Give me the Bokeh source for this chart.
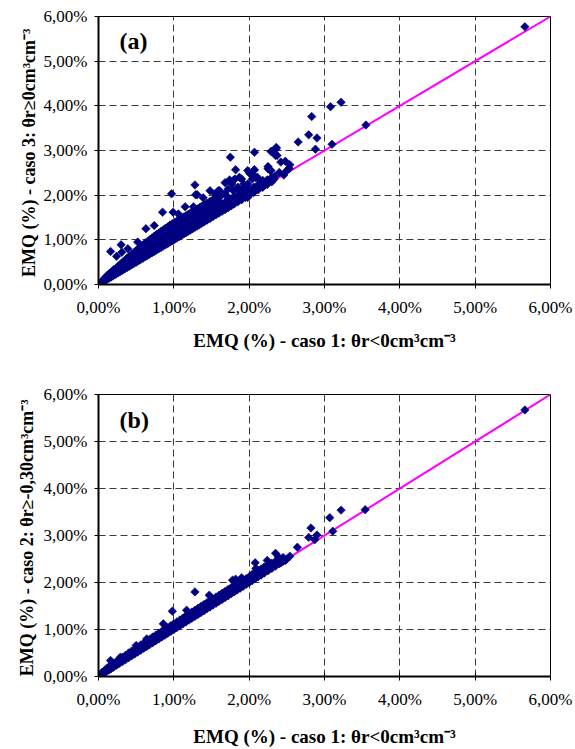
import numpy as np
from bokeh.plotting import figure
from bokeh.layouts import column
from bokeh.models import Range1d, FixedTicker, Label
from bokeh.embed import file_html
from bokeh.resources import INLINE

# ---------------- data ----------------
tick_values = [0, 1, 2, 3, 4, 5, 6]
tick_labels = ["0,00%", "1,00%", "2,00%", "3,00%", "4,00%", "5,00%", "6,00%"]
diag_x = [0, 6]
diag_y = [0, 6]

x_title = "EMQ (%) - caso 1: θr<0cm³cm⁻³"
y_title_a = "EMQ (%) - caso 3:  θr≥0cm³cm⁻³"
y_title_b = "EMQ (%) - caso 2:  θr≥-0,30cm³cm⁻³"

# panel (a): dense band near the 1:1 line
a_band = [
    (0.02, 0.02), (0.02, 0.03), (0.05, 0.05), (0.05, 0.08),
    (0.08, 0.08), (0.08, 0.11), (0.08, 0.14), (0.11, 0.11), (0.11, 0.15), (0.11, 0.19),
    (0.14, 0.14), (0.14, 0.19), (0.14, 0.24), (0.17, 0.17), (0.17, 0.22), (0.17, 0.28),
    (0.20, 0.20), (0.20, 0.26), (0.20, 0.33), (0.23, 0.23), (0.23, 0.29), (0.23, 0.36),
    (0.26, 0.26), (0.26, 0.33), (0.26, 0.41), (0.29, 0.29), (0.29, 0.36), (0.29, 0.45),
    (0.32, 0.32), (0.32, 0.40), (0.32, 0.50), (0.35, 0.35), (0.35, 0.44), (0.35, 0.54),
    (0.38, 0.38), (0.38, 0.48), (0.38, 0.59), (0.41, 0.41), (0.41, 0.51), (0.41, 0.63),
    (0.44, 0.44), (0.44, 0.55), (0.44, 0.67), (0.47, 0.47), (0.47, 0.58), (0.47, 0.71),
    (0.50, 0.50), (0.50, 0.62), (0.50, 0.76), (0.53, 0.53), (0.53, 0.66), (0.53, 0.80),
    (0.56, 0.56), (0.56, 0.70), (0.56, 0.84), (0.59, 0.59), (0.59, 0.73), (0.59, 0.88),
    (0.62, 0.62), (0.62, 0.77), (0.62, 0.93), (0.65, 0.65), (0.65, 0.80), (0.65, 0.96),
    (0.68, 0.68), (0.68, 0.84), (0.68, 1.00), (0.71, 0.71), (0.71, 0.87), (0.71, 1.04),
    (0.74, 0.74), (0.74, 0.91), (0.74, 1.08), (0.77, 0.77), (0.77, 0.94), (0.77, 1.12),
    (0.80, 0.80), (0.80, 0.98), (0.80, 1.15), (0.83, 0.83), (0.83, 1.01), (0.83, 1.19),
    (0.86, 0.86), (0.86, 1.04), (0.86, 1.22), (0.89, 0.89), (0.89, 1.07), (0.89, 1.26),
    (0.92, 0.92), (0.92, 1.11), (0.92, 1.29), (0.95, 0.95), (0.95, 1.14), (0.95, 1.33),
    (0.98, 0.98), (0.98, 1.17), (0.98, 1.36), (1.01, 1.01), (1.01, 1.20), (1.01, 1.39),
    (1.04, 1.04), (1.04, 1.23), (1.04, 1.42), (1.07, 1.07), (1.07, 1.26), (1.07, 1.45),
    (1.10, 1.10), (1.10, 1.29), (1.10, 1.48), (1.13, 1.13), (1.13, 1.32), (1.13, 1.51),
    (1.16, 1.16), (1.16, 1.35), (1.16, 1.54), (1.19, 1.19), (1.19, 1.38), (1.19, 1.57),
    (1.22, 1.22), (1.22, 1.41), (1.22, 1.60), (1.25, 1.25), (1.25, 1.44), (1.25, 1.63),
    (1.28, 1.28), (1.28, 1.47), (1.28, 1.66), (1.31, 1.31), (1.31, 1.50), (1.31, 1.69),
    (1.34, 1.34), (1.34, 1.53), (1.34, 1.72), (1.37, 1.37), (1.37, 1.56), (1.37, 1.75),
    (1.40, 1.40), (1.40, 1.59), (1.40, 1.78), (1.44, 1.44), (1.44, 1.63), (1.44, 1.82),
    (1.48, 1.48), (1.48, 1.66), (1.48, 1.86), (1.52, 1.52), (1.52, 1.70), (1.52, 1.90),
    (1.56, 1.56), (1.56, 1.74), (1.56, 1.93), (1.60, 1.60), (1.60, 1.77), (1.60, 1.96),
    (1.64, 1.64), (1.64, 1.80), (1.68, 1.68), (1.68, 1.84), (1.72, 1.72), (1.72, 1.88),
    (1.76, 1.76), (1.76, 1.92), (1.80, 1.80), (1.80, 1.96), (1.85, 1.85), (1.85, 2.00),
    (1.90, 1.90), (1.90, 2.05), (1.95, 1.95), (1.95, 2.09), (2.00, 2.00), (2.00, 2.12),
    (2.06, 2.06), (2.06, 2.18), (2.12, 2.12), (2.12, 2.24), (2.18, 2.18), (2.18, 2.30),
    (2.24, 2.24), (2.24, 2.34), (2.30, 2.30), (2.30, 2.40),
]

# panel (a): extra points filling the band between its rows
a_fill = [
    (0.10, 0.13), (0.16, 0.25), (0.22, 0.32), (0.28, 0.40), (0.34, 0.47), (0.40, 0.56),
    (0.46, 0.63), (0.52, 0.71), (0.58, 0.80), (0.64, 0.87), (0.70, 0.95), (0.76, 1.02),
    (0.82, 1.09), (0.88, 1.17), (0.94, 1.24), (1.00, 1.30), (1.06, 1.36), (1.12, 1.42),
    (1.18, 1.48), (1.24, 1.54), (1.30, 1.60), (1.36, 1.66), (1.42, 1.72), (1.48, 1.77),
    (1.54, 1.82), (1.60, 1.87),
    (0.13, 0.16), (0.19, 0.23), (0.25, 0.30), (0.31, 0.36), (0.37, 0.43), (0.43, 0.50),
    (0.49, 0.56), (0.55, 0.63), (0.61, 0.70), (0.67, 0.76), (0.73, 0.83), (0.79, 0.89),
    (0.85, 0.95), (0.91, 1.02), (0.97, 1.08), (1.03, 1.14), (1.09, 1.20), (1.15, 1.26),
    (1.21, 1.32), (1.27, 1.38), (1.33, 1.44), (1.39, 1.50), (1.45, 1.55), (1.51, 1.61),
    (1.57, 1.67), (1.63, 1.72), (1.70, 1.78), (1.78, 1.86), (1.88, 1.97), (1.98, 2.06),
    (2.08, 2.15), (2.20, 2.27),
]

# panel (a): scattered points above the band
a_scatter = [
    (0.16, 0.74), (0.24, 0.63), (0.31, 0.72), (0.39, 0.80), (0.30, 0.89), (0.52, 0.95),
    (0.63, 1.25), (0.74, 1.32), (0.85, 1.62), (0.99, 1.62), (1.06, 1.58), (1.15, 1.74),
    (1.26, 1.74), (0.97, 2.03), (1.29, 2.01), (1.28, 2.23), (1.31, 2.01), (1.39, 1.94),
    (1.48, 2.10), (1.55, 2.03), (1.61, 2.10), (1.68, 2.03), (1.72, 2.14),
    (1.59, 2.10), (1.63, 1.99), (1.72, 1.95), (1.98, 1.95),
    (1.79, 2.33), (1.77, 2.25), (1.90, 2.36), (1.87, 2.10), (1.94, 2.18), (1.98, 2.25),
    (2.01, 2.48), (2.07, 2.57), (2.11, 2.40), (2.18, 2.33), (2.25, 2.59), (2.29, 2.55),
    (2.36, 3.04), (2.29, 2.98), (2.37, 2.89), (2.40, 2.51), (2.33, 2.36), (2.25, 2.29),
    (1.68, 2.28), (1.74, 2.34), (1.81, 2.36), (1.87, 2.40), (1.85, 2.18), (1.79, 2.10),
    (1.93, 2.25), (1.96, 2.14), (2.34, 2.42), (2.31, 2.33), (2.24, 2.33), (2.18, 2.18),
    (2.11, 2.14), (1.98, 2.55), (2.03, 2.48), (2.06, 2.55), (2.09, 2.39), (2.04, 2.36),
    (1.82, 2.57), (1.75, 2.85), (2.07, 2.96), (2.30, 2.98), (2.36, 3.07), (2.35, 2.89),
    (2.42, 2.74), (2.48, 2.76), (2.54, 2.68), (2.53, 2.59), (2.25, 2.64), (2.28, 2.55),
    (2.53, 2.60), (2.46, 2.45), (2.50, 2.55),
    (2.65, 3.19), (2.79, 3.35), (2.90, 3.28), (3.10, 3.14), (2.88, 3.03),
    (2.83, 3.76), (3.08, 3.98), (3.22, 4.08), (3.55, 3.57), (5.66, 5.77),
]

# panel (b): narrow band near the 1:1 line
b_band = [
    (0.02, 0.02), (0.05, 0.05), (0.05, 0.09), (0.08, 0.08), (0.08, 0.13),
    (0.11, 0.11), (0.11, 0.17), (0.14, 0.14), (0.14, 0.21), (0.17, 0.17), (0.17, 0.24),
    (0.20, 0.20), (0.20, 0.28), (0.24, 0.24), (0.24, 0.32), (0.28, 0.28), (0.28, 0.37),
    (0.32, 0.32), (0.32, 0.41), (0.36, 0.36), (0.36, 0.45), (0.40, 0.40), (0.40, 0.50),
    (0.44, 0.44), (0.44, 0.54), (0.48, 0.48), (0.48, 0.58), (0.52, 0.52), (0.52, 0.62),
    (0.56, 0.56), (0.56, 0.67), (0.60, 0.60), (0.60, 0.71), (0.64, 0.64), (0.64, 0.75),
    (0.68, 0.68), (0.68, 0.79), (0.72, 0.72), (0.72, 0.84), (0.76, 0.76), (0.76, 0.88),
    (0.80, 0.80), (0.80, 0.92), (0.84, 0.84), (0.84, 0.96), (0.88, 0.88), (0.88, 1.00),
    (0.92, 0.92), (0.92, 1.04), (0.96, 0.96), (0.96, 1.08), (1.00, 1.00), (1.00, 1.12),
    (1.04, 1.04), (1.04, 1.16), (1.08, 1.08), (1.08, 1.20), (1.12, 1.12), (1.12, 1.24),
    (1.16, 1.16), (1.16, 1.29), (1.20, 1.20), (1.20, 1.33), (1.24, 1.24), (1.24, 1.37),
    (1.28, 1.28), (1.28, 1.41), (1.32, 1.32), (1.32, 1.45), (1.36, 1.36), (1.36, 1.49),
    (1.40, 1.40), (1.40, 1.53), (1.44, 1.44), (1.44, 1.57), (1.48, 1.48), (1.48, 1.61),
    (1.52, 1.52), (1.52, 1.65), (1.56, 1.56), (1.56, 1.69), (1.60, 1.60), (1.60, 1.73),
    (1.64, 1.64), (1.64, 1.77), (1.68, 1.68), (1.68, 1.81), (1.72, 1.72), (1.72, 1.85),
    (1.76, 1.76), (1.76, 1.89), (1.80, 1.80), (1.80, 1.93), (1.84, 1.84), (1.84, 1.97),
    (1.88, 1.88), (1.88, 2.01), (1.92, 1.92), (1.92, 2.04), (1.96, 1.96), (1.96, 2.08),
    (2.00, 2.00), (2.00, 2.12), (2.04, 2.04), (2.04, 2.17), (2.08, 2.08), (2.08, 2.22),
    (2.12, 2.12), (2.12, 2.26), (2.16, 2.16), (2.16, 2.29), (2.20, 2.20), (2.20, 2.33),
    (2.25, 2.25), (2.25, 2.37), (2.30, 2.30), (2.30, 2.41), (2.35, 2.35), (2.35, 2.45),
    (2.40, 2.40), (2.40, 2.50), (2.45, 2.45), (2.45, 2.53), (2.50, 2.50),
]

# panel (b): points off the band
b_scatter = [
    (0.16, 0.34), (0.29, 0.41), (0.50, 0.66), (0.64, 0.80), (0.86, 1.12), (0.98, 1.39),
    (1.17, 1.41), (1.28, 1.80), (1.47, 1.73), (1.78, 2.05), (1.87, 2.03), (1.82, 2.07),
    (1.90, 2.10), (1.85, 1.95), (2.08, 2.42), (2.24, 2.47), (2.35, 2.62), (2.09, 2.30),
    (2.39, 2.54), (2.42, 2.42), (2.48, 2.47), (2.54, 2.56), (2.64, 2.75), (2.79, 2.96),
    (2.90, 3.01), (2.87, 2.91), (2.82, 3.16), (3.11, 3.09), (3.07, 3.38), (3.22, 3.54),
    (3.54, 3.55), (5.66, 5.67),
]

FONT = "Liberation Serif"
NAVY = "#000080"
MAGENTA = "#FF00FF"


def make_panel(points, ytitle, tag, w, h, bl, br, bt, bb, ystand, xstand):
    p = figure(width=w, height=h, output_backend="svg", toolbar_location=None,
               x_range=Range1d(0, 6), y_range=Range1d(0, 6),
               min_border_left=bl, min_border_right=br, min_border_top=bt,
               min_border_bottom=bb, background_fill_color="white",
               border_fill_color="white", outline_line_color="black",
               outline_line_width=1)
    ticker = FixedTicker(ticks=tick_values)
    overrides = {v: s for v, s in zip(tick_values, tick_labels)}
    for ax in (p.xaxis[0], p.yaxis[0]):
        ax.ticker = ticker
        ax.major_label_overrides = overrides
        ax.major_label_text_font = FONT
        ax.major_label_text_font_size = "17px"
        ax.major_label_text_color = "black"
        ax.axis_line_color = "black"
        ax.axis_line_width = 2
        ax.major_tick_line_color = "black"
        ax.major_tick_line_width = 1
        ax.minor_tick_line_color = None
        ax.axis_label_text_font = FONT
        ax.axis_label_text_font_style = "bold"
        ax.axis_label_text_color = "black"
    p.xaxis[0].axis_label_text_font_size = "19px"
    p.yaxis[0].axis_label_text_font_size = "18px"
    p.xaxis[0].major_tick_in = 4
    p.xaxis[0].major_tick_out = 4
    p.xaxis[0].major_label_standoff = 9
    p.xaxis[0].axis_label = x_title
    p.xaxis[0].axis_label_standoff = xstand
    p.yaxis[0].major_tick_in = 0
    p.yaxis[0].major_tick_out = 4
    p.yaxis[0].major_label_standoff = 7
    p.yaxis[0].axis_label = ytitle
    p.yaxis[0].axis_label_standoff = ystand

    for g in (p.xgrid[0], p.ygrid[0]):
        g.ticker = ticker
        g.grid_line_color = "#3a3a3a"
        g.grid_line_width = 1
        g.grid_line_dash = "7 4"

    p.line(diag_x, diag_y, line_color=MAGENTA, line_width=2)
    xs = [q[0] for q in points]
    ys = [q[1] for q in points]
    p.scatter(xs, ys, marker="square", angle=np.pi / 4, size=6.0,
              fill_color=NAVY, line_color=NAVY, line_width=0.6)

    p.add_layout(Label(x=0.28, y=5.46, text=tag, text_font=FONT,
                       text_font_style="bold", text_font_size="24px",
                       text_baseline="middle", text_align="left",
                       text_color="black"))
    return p


pts_a = a_band + a_fill + a_scatter
pts_b = b_band + b_scatter

p1 = make_panel(pts_a, y_title_a, "(a)", 575, 380, 92, 25, 16, 96, 2, 10)
p2 = make_panel(pts_b, y_title_b, "(b)", 575, 369, 98, 21, 14, 73, 4, 14)

layout = column(p1, p2, spacing=0)
open("out.html", "w").write(file_html(layout, INLINE))
